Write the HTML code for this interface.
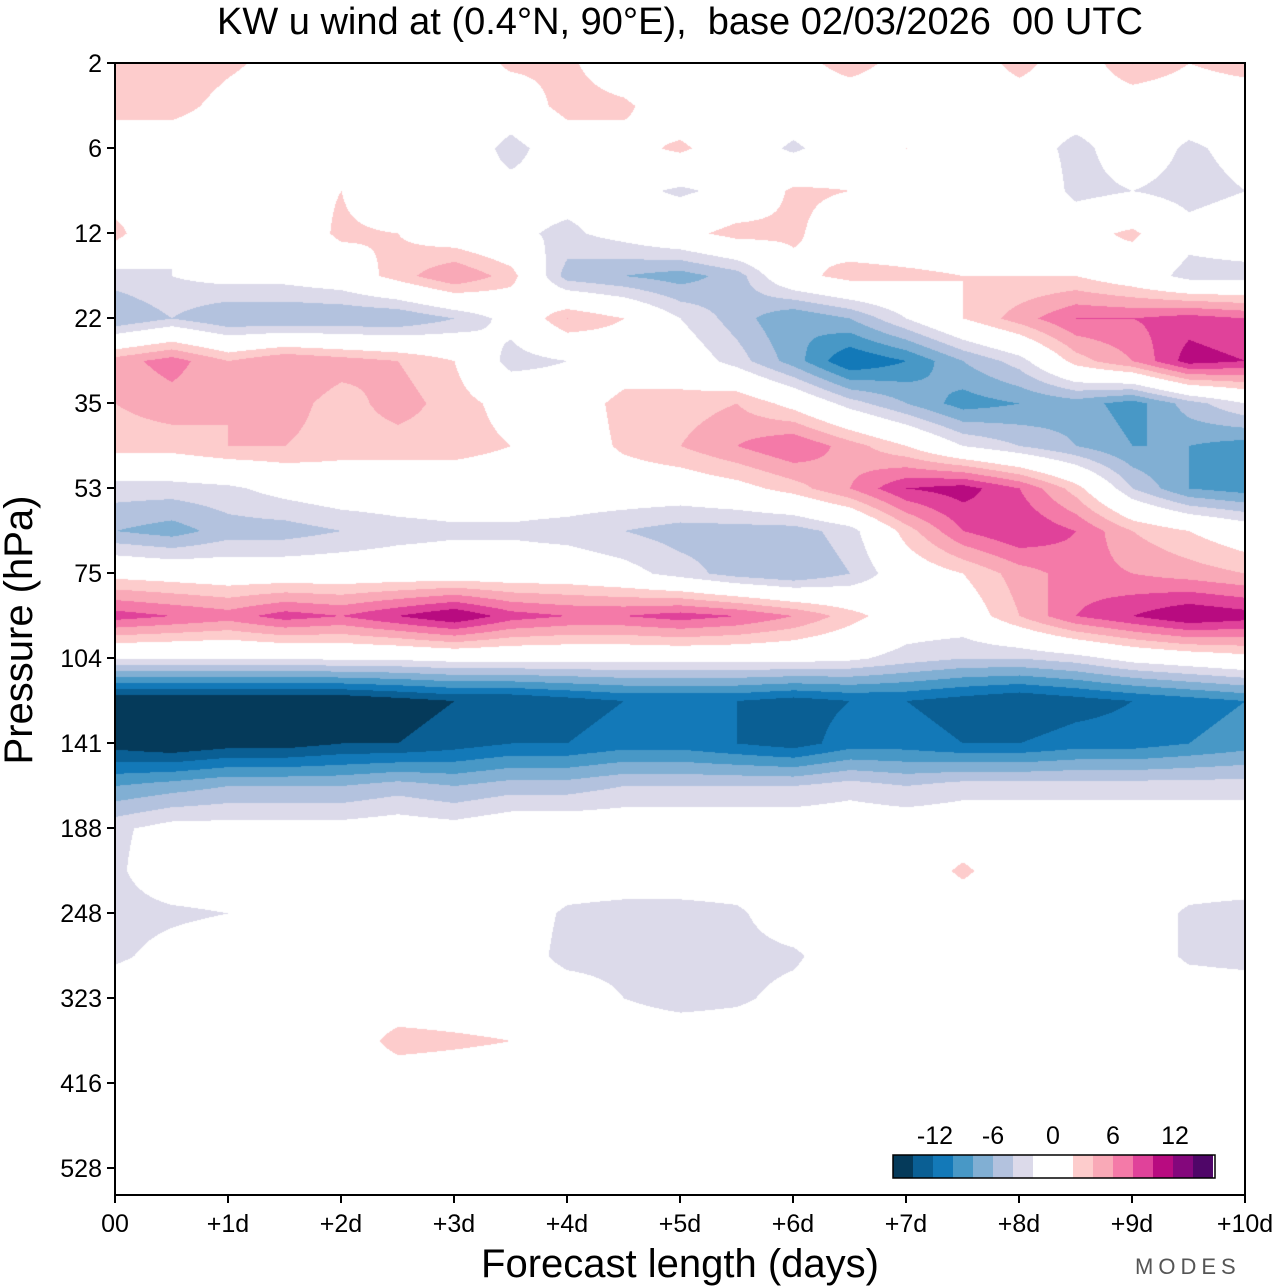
<!DOCTYPE html>
<html><head><meta charset="utf-8">
<style>
body{margin:0;background:#fff;width:1280px;height:1286px;overflow:hidden;position:relative;font-family:"Liberation Sans",sans-serif}
#field{position:absolute;left:115px;top:63px}
svg{position:absolute;left:0;top:0}
text{white-space:pre}
</style></head><body>
<canvas id="field" width="1130" height="1132"></canvas>
<svg id="ax" width="1280" height="1286"></svg>
<script>
// forecast days for grid columns
const days=[0,0.5,1,1.5,2,2.5,3,3.5,4,4.5,5,5.5,6,6.5,7,7.5,8,8.5,9,9.5,10];
// pressure tick labels (hPa), one per log-level index
const pLabels=[2,6,12,22,35,53,75,104,141,188,248,323,416,528];
const xLabels=["00","+1d","+2d","+3d","+4d","+5d","+6d","+7d","+8d","+9d","+10d"];
// level index of each grid row (0 = 2 hPa tick)
const rowLevels=[0,0.5,1,1.5,2,2.5,3,3.5,4,4.5,5,5.5,6,6.5,7,7.5,8,8.5,9,9.5,10,10.5,11,11.5,12,12.5,13,13.5];
// u wind (m/s) rows
const u00=[3,4,2.5,1,1,1,0,2.5,2.5,0,-2,0,1,3,1,0,3,0,4,2,3];
const u05=[3,3,1,0,0,0,1,0,3,2.5,0,0,0,0,0,0,0,0,0,0,0];
const u10=[0,0,0,0,0,0,0.5,-3,0,1,2.5,0,-2.5,0,2,0,0,-3,0,-2.5,-1];
const u15=[0,2,0,1,2,-1,-1,-1,-1,-1,-2.5,-1,2.5,2,-2,-1,2,-3,-2,-3,-2];
const u20=[3,-2,-1,0,2.5,2,0,-1.5,-2.5,-1,1,3,2.5,0,0,0,0,1,2.5,-1,0];
const u25=[-3,-2,-1,-1,0,3,6,3,-5,-6,-7,-5,1,3,2.5,2,2,2,0,-3,-3];
const u30=[-6,-4,-6,-6,-6,-6,-4,-1,4,2,-2,-5,-8,-6,-2,2,5,8,8,9,8];
const u35=[5,7,4,6,5,4,2,-3,-2,0,0,-3,-7,-12,-10,-6,-3,3,6,11,10];
const u40=[4,5,4,5,3,5,3,1,0,3,3,4,1,-3,-6,-9,-8,-7,-9,-5,-2];
const u45=[3,3,4,4,3,3,3,2,0,2.5,4,6,8,5,2,-2,-4,-6,-8,-8,-9];
const u50=[-3,-3,-2.5,-1,0,0,0,0,0,0,0,1,3,6,10,11,8,3,-4,-8,-9];
const u55=[-6,-7,-5,-5,-4,-3,-2.5,-2.5,-3,-4,-5,-5,-5,-3,3,8,10,8,4,2,0];
const u60=[1,0.5,0,0,0,0,0,0,0,-1,-3,-5,-6,-4,0,2,5,7,6,5,4];
const u65=[9,8,7,9,8,10,12,9,8,8,9,8,6,3,0,0,4,8,10,12,11];
const u70=[-2,-2,-2,-2,-1.5,-1.5,-1,-1,-1,-1,-1,-1,-1,-1.5,-3,-4,-4,-3,-1,0,1];
const u75=[-16,-16,-16,-16,-16,-15,-14,-14,-13,-12,-12,-12,-13,-12,-12,-13,-14,-13,-12,-11,-10];
const u80=[-15,-16,-15,-15,-14,-14,-13,-12,-12,-11,-11,-12,-13,-11,-11,-12,-12,-11,-11,-10,-9];
const u85=[-8,-7,-6,-6,-6,-5,-6,-5,-5,-4,-4,-4,-4,-3,-4,-3,-3,-3,-3,-3,-3];
const u90=[-2.5,-1,-1,-1,-1,-0.5,-1,0,0,0,0,0,0,0,0,0,0,0,0,0,0];
const u95=[-2.5,0,0,0,0,0,0,0,0,0,0,0,0,0,0,2.5,0,0,0,0,0];
const u100=[-3,-2.5,-2,0,0,0,0,0,-2.5,-3,-3,-2.5,0,0,0,0,0,0,0,-2.5,-3];
const u105=[-2.5,-1,0,0,0,0,0,0,-3,-3,-3,-3,-2.5,0,0,0,0,0,0,-2.5,-3];
const u110=[0,0,0,0,0,0,0,0,0,-2,-3,-2.5,-1,0,0,0,0,0,0,0,0];
const u115=[0,0,0,0,0,3,2.5,2,0,0,0,0,0,0,0,0,0,0,0,0,0];
const u120=[0,0,0,0,0,0,0,0,0,0,0,0,0,0,0,0,0,0,0,0,0];
const u125=[0,0,0,0,0,0,0,0,0,0,0,0,0,0,0,0,0,0,0,0,0];
const u130=[0,0,0,0,0,0,0,0,0,0,0,0,0,0,0,0,0,0,0,0,0];
const u135=[0,0,0,0,0,0,0,0,0,0,0,0,0,0,0,0,0,0,0,0,0];
const grid=[u00,u05,u10,u15,u20,u25,u30,u35,u40,u45,u50,u55,u60,u65,u70,u75,u80,u85,u90,u95,u100,u105,u110,u115,u120,u125,u130,u135];
const levels=[-14,-12,-10,-8,-6,-4,-2,2,4,6,8,10,12,14];
const colors=["#053a5a","#0a5f94","#1379b8","#4898c6","#81afd3","#b3c2de","#dcdaea","#ffffff","#fdcccc","#f9a9b7","#f47aa8","#e0429a","#b80b80","#84077c","#4f0668"];

const X0=115,X1=1245,Y0=63,LSTEP=85;
const xs=d=>X0+(X1-X0)*d/10;
const ys=l=>Y0+LSTEP*l;

function hex(c){return [parseInt(c.slice(1,3),16),parseInt(c.slice(3,5),16),parseInt(c.slice(5,7),16)];}
const rgb=colors.map(hex);
function bin(v){let i=0;while(i<levels.length&&v>=levels[i])i++;return i;}
function interp(px,py){
  const d=(px)/(X1-X0)*10, l=py/LSTEP;
  let ci=Math.floor(d/0.5); if(ci>=days.length-1)ci=days.length-2; if(ci<0)ci=0;
  const tx=(d-days[ci])/(days[ci+1]-days[ci]);
  let ri=0; while(ri<rowLevels.length-2&&l>rowLevels[ri+1])ri++;
  const ty=Math.max(0,Math.min(1,(l-rowLevels[ri])/(rowLevels[ri+1]-rowLevels[ri])));
  const a=grid[ri][ci],b=grid[ri][ci+1],c=grid[ri+1][ci],e=grid[ri+1][ci+1];
  return (a*(1-tx)+b*tx)*(1-ty)+(c*(1-tx)+e*tx)*ty;
}
const cv=document.getElementById('field'),ctx=cv.getContext('2d');
const W=cv.width,H=cv.height,img=ctx.createImageData(W,H);
for(let y=0;y<H;y++)for(let x=0;x<W;x++){
  const k=bin(interp(x,y)),p=(y*W+x)*4,c=rgb[k];
  img.data[p]=c[0];img.data[p+1]=c[1];img.data[p+2]=c[2];img.data[p+3]=255;
}
ctx.putImageData(img,0,0);

const NS="http://www.w3.org/2000/svg",svg=document.getElementById('ax');
function mk(t,a,txt,parent){const e=document.createElementNS(NS,t);for(const k in a)e.setAttribute(k,a[k]);if(txt!=null)e.textContent=txt;(parent||svg).appendChild(e);return e;}
let e;
e=mk('rect',{x:X0,y:Y0,width:X1-X0,height:1195-Y0,fill:'none',stroke:'#000','stroke-width':2});


pLabels.forEach((p,i)=>{
  const y=ys(i);
  const t=mk('line',{x1:107,x2:X0,y1:y,y2:y,stroke:'#000','stroke-width':2});
  
  
  const l=mk('text',{x:102,y:y+9,'text-anchor':'end','font-size':25},String(p));
  
  
});
xLabels.forEach((s,i)=>{
  const x=xs(i);
  const t=mk('line',{x1:x,x2:x,y1:1195,y2:1203,stroke:'#000','stroke-width':2});
  
  
  const l=mk('text',{x:x,y:1232,'text-anchor':'middle','font-size':25},s);
  
  
});
e=mk('text',{x:680,y:34,'text-anchor':'middle','font-size':38},'KW u wind at (0.4°N, 90°E),  base 02/03/2026  00 UTC');


e=mk('text',{x:680,y:1277,'text-anchor':'middle','font-size':40},'Forecast length (days)');


e=mk('text',{x:0,y:0,'text-anchor':'middle','font-size':40,transform:'translate(32,630) rotate(-90)'},'Pressure (hPa)');


e=mk('text',{x:1135,y:1274,'font-size':22,fill:'#555','letter-spacing':'5'},'MODES');


// colorbar
const cb=mk('g',{});


colors.forEach((c,i)=>{
  const x=893+i*20+(i>7?20:0), w=(i==7?40:20);
  const r=mk('rect',{x:x,y:1155,width:w,height:23,fill:c},null,cb);
  
  
});
mk('rect',{x:893,y:1155,width:322,height:23,fill:'none',stroke:'#000','stroke-width':1.5},null,cb);
[["-12",935],["-6",993],["0",1053],["6",1113],["12",1175]].forEach(([s,x])=>{
  const t=mk('text',{x:x,y:1144,'text-anchor':'middle','font-size':25},s,cb);
  
  
});
</script>
</body></html>
